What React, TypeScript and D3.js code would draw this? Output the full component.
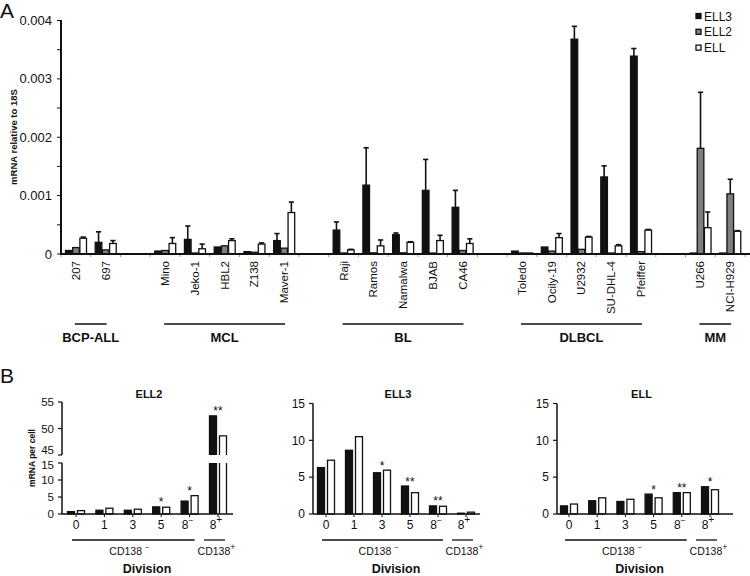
import React from "react";
import * as d3 from "d3";

const FONT = "'Liberation Sans', Arial, Helvetica, sans-serif";

// ---------- Panel A data ----------
const cellLines = ["207", "697", "gap1", "Mino", "Jeko-1", "HBL2", "Z138", "Maver-1", "gap2", "Raji", "Ramos", "Namalwa", "BJAB", "CA46", "gap3", "Toledo", "Ocily-19", "U2932", "SU-DHL-4", "Pfeiffer", "gap4", "U266", "NCI-H929"];
const seriesA = ["ELL3", "ELL2", "ELL"];
const ell3A = [0.00006, 0.0002, null, 0.00005, 0.00025, 0.00012, 0.00004, 0.00023, null, 0.00041, 0.00118, 0.00033, 0.00109, 0.0008, null, 0.00005, 0.00012, 0.00368, 0.00132, 0.00339, null, 0.000005, 0.00001];
const ell3ErrA = [0, 0.00018, null, 0, 0.00023, 0, 0, 0.00012, null, 0.00014, 0.00064, 0.00003, 0.00053, 0.00029, null, 0, 0, 0.00022, 0.00019, 0.00013, null, 0, 0];
const ell2A = [0.00011, 0.00007, null, 0.00006, 0.00001, 0.00014, 0.00003, 0.0001, null, 0.000005, 0.00002, 0.00002, 0.00001, 0.00006, null, 0, 0.00005, 0.00008, 0.000005, 0.00004, null, 0.00181, 0.00103];
const ell2ErrA = [0, 0, null, 0, 0, 0, 0, 0, null, 0, 0, 0, 0, 0, null, 0, 0, 0, 0, 0, null, 0.00096, 0.00025];
const ellA = [0.00027, 0.00018, null, 0.00018, 0.00009, 0.00023, 0.00017, 0.00071, null, 0.00007, 0.00014, 0.0002, 0.00023, 0.00018, null, 0, 0.00028, 0.00029, 0.00014, 0.00041, null, 0.00045, 0.00039];
const ellErrA = [0.00002, 0.00005, null, 0.0001, 0.00008, 0.00003, 0.00002, 0.00018, null, 0.00001, 0.0001, 0.00001, 0.00009, 0.00008, null, 0, 0.00007, 0.00001, 0.00002, 0.00001, null, 0.00027, 0.00001];
const yTicksA = [0, 0.001, 0.002, 0.003, 0.004];
const yTickLabelsA = ["0", "0.001", "0.002", "0.003", "0.004"];
const groupNames = ["BCP-ALL", "MCL", "BL", "DLBCL", "MM"];
const groupFirst = ["207", "Mino", "Raji", "Toledo", "U266"];
const groupLast = ["697", "Maver-1", "CA46", "Pfeiffer", "NCI-H929"];

// ---------- Panel B data ----------
const divisions = ["0", "1", "3", "5", "8-", "8+"];
const ell2Black = [0.7, 1.1, 1.1, 2.1, 3.8, 52.4];
const ell2White = [1.0, 1.7, 1.4, 2.0, 5.4, 48.6];
const ell2Stars = ["", "", "", "*", "*", "**"];
const ell3Black = [6.3, 8.65, 5.6, 3.8, 1.1, 0.05];
const ell3White = [7.3, 10.5, 5.95, 2.9, 1.05, 0.25];
const ell3Stars = ["", "", "*", "**", "**", ""];
const ellBlack = [1.1, 1.8, 1.7, 2.7, 2.9, 3.7];
const ellWhite = [1.35, 2.2, 2.0, 2.2, 2.9, 3.3];
const ellStars = ["", "", "", "*", "**", "*"];
const lowTicks = [0, 5, 10, 15];
const highTicks = [45, 50, 55];

const INK = "#111";

function PanelA() {
  const x = d3.scaleBand<string>().domain(cellLines).range([61, 745]).padding(0);
  const xs = d3.scaleBand<string>().domain(seriesA).range([4.5, 25.5]).paddingInner(0.08);
  const base = 254;
  const y = d3.scaleLinear().domain([0, 0.004]).range([base, 20.5]);
  const vals = [ell3A, ell2A, ellA];
  const errs = [ell3ErrA, ell2ErrA, ellErrA];
  const fills = [INK, "#7f7f7f", "#ffffff"];
  const minor = d3.range(0, 0.00401, 0.0005);
  const edges = d3.range(cellLines.length + 1).map((i) => 61 + i * x.step());
  return (
    <g>
      <text x={0} y={18} fontSize={21} fontFamily={FONT} fill={INK}>A</text>
      <text transform={`translate(17,137) rotate(-90)`} textAnchor="middle" fontSize={9.5} fontWeight="bold" fontFamily={FONT} fill={INK}>mRNA relative to 18S</text>
      {edges.map((e, i) => (
        <line key={i} x1={e} x2={e} y1={base} y2={base + 3} stroke="#999" strokeWidth={1} />
      ))}
      {cellLines.map((c, i) =>
        seriesA.map((s, j) => {
          const v = vals[j][i];
          if (v === null) return null;
          const bx = (x(c) as number) + (xs(s) as number);
          const bw = xs.bandwidth();
          const top = Math.min(y(v), base - 1);
          const e = errs[j][i] as number;
          const cx = bx + bw / 2;
          return (
            <g key={c + s}>
              <rect x={bx} y={top} width={bw} height={base - top} fill={fills[j]} stroke={INK} strokeWidth={1.3} />
              {e > 0 && (
                <g stroke={INK} strokeWidth={1.6}>
                  <line x1={cx} x2={cx} y1={top} y2={y(v + e)} />
                  <line x1={cx - 2.6} x2={cx + 2.6} y1={y(v + e)} y2={y(v + e)} />
                </g>
              )}
            </g>
          );
        })
      )}
      <line x1={61} x2={61} y1={20} y2={base + 1} stroke={INK} strokeWidth={2} />
      <line x1={60} x2={750} y1={base} y2={base} stroke={INK} strokeWidth={2} />
      {minor.map((t, i) => (
        <line key={i} x1={57} x2={61} y1={y(t)} y2={y(t)} stroke={INK} strokeWidth={1} />
      ))}
      {yTicksA.map((t, i) => (
        <text key={i} x={52} y={y(t)} dy="0.35em" textAnchor="end" fontSize={13} fontFamily={FONT} fill={INK}>{yTickLabelsA[i]}</text>
      ))}
      {cellLines.map((c) =>
        c.startsWith("gap") ? null : (
          <text key={c} transform={`translate(${(x(c) as number) + x.bandwidth() / 2},261) rotate(-90)`} dy="0.35em" textAnchor="end" fontSize={11.5} fontFamily={FONT} fill={INK}>{c}</text>
        )
      )}
      {groupNames.map((g, i) => {
        const x0 = (x(groupFirst[i]) as number) + x.bandwidth() / 2 - 1;
        const x1 = (x(groupLast[i]) as number) + x.bandwidth() / 2 + 1;
        return (
          <g key={g}>
            <line x1={x0} x2={x1} y1={324} y2={324} stroke={INK} strokeWidth={1.5} />
            <text x={(x0 + x1) / 2} y={342} textAnchor="middle" fontSize={13} fontWeight="bold" fontFamily={FONT} fill={INK}>{g}</text>
          </g>
        );
      })}
      {seriesA.map((s, j) => (
        <g key={s} transform={`translate(696,${13.5 + j * 15.8})`}>
          <rect x={0} y={0} width={5} height={5} fill={fills[j]} stroke={INK} strokeWidth={1.3} />
          <text x={8} y={2.8} dy="0.35em" fontSize={12} fontFamily={FONT} fill={INK}>{s}</text>
        </g>
      ))}
    </g>
  );
}

function SupLabel({ base, sup, x, y, fs, anchor }: { base: string; sup: string; x: number; y: number; fs: number; anchor: string }) {
  return (
    <text x={x} y={y} textAnchor={anchor as any} fontSize={fs} fontFamily={FONT} fill={INK}>
      {base}
      <tspan dy={-fs * 0.45} fontSize={sup === "+" ? fs * 0.85 : fs * 0.7}>{sup === "-" ? "\u2212" : "+"}</tspan>
    </text>
  );
}

function PanelB({ title, axisX, axisEnd, first, last, black, white, stars, broken, yLabel }: any) {
  const base = 514;
  const xp = d3.scalePoint<string>().domain(divisions).range([first, last]);
  const yLow = d3.scaleLinear().domain([0, 15]).range([base, broken ? 463 : 403.5]);
  const yHigh = d3.scaleLinear().domain([45, 55]).range([455, 402]);
  const yOf = (v: number) => (broken && v > 15 ? yHigh(v) : yLow(v));
  const mid = (first + last) / 2;
  const bars: any[] = [];
  divisions.forEach((d, i) => {
    const c = xp(d) as number;
    [
      { v: black[i], x0: c - 8.5, fill: INK },
      { v: white[i], x0: c + 1.5, fill: "#fff" },
    ].forEach((b, k) => {
      const w = 7;
      if (broken && b.v > 15) {
        const tH = yHigh(b.v);
        bars.push(
          <g key={d + k}>
            <rect x={b.x0} y={yLow(15)} width={w} height={base - yLow(15)} fill={b.fill} stroke="none" />
            <path d={`M${b.x0},${base}V${yLow(15)}M${b.x0 + w},${base}V${yLow(15)}`} stroke={INK} strokeWidth={1.3} fill="none" />
            <rect x={b.x0} y={tH} width={w} height={455 - tH} fill={b.fill} stroke="none" />
            <path d={`M${b.x0},455V${tH}H${b.x0 + w}V455`} stroke={INK} strokeWidth={1.3} fill="none" />
          </g>
        );
      } else {
        const t = Math.min(yLow(b.v), base - 0.8);
        bars.push(<rect key={d + k} x={b.x0} y={t} width={w} height={base - t} fill={b.fill} stroke={INK} strokeWidth={1.3} />);
      }
    });
  });
  const c0 = xp(divisions[0]) as number;
  const c4 = xp(divisions[4]) as number;
  const c5 = xp(divisions[5]) as number;
  const l0 = c0 - 4, l1 = c4 + 5, p0 = c5 - 14, p1 = c5 + 7;
  const tickFs = broken ? 11.5 : 12;
  return (
    <g>
      <text x={mid + 2} y={398} textAnchor="middle" fontSize={11} fontWeight="bold" fontFamily={FONT} fill={INK}>{title}</text>
      {yLabel && (
        <text transform={`translate(34.5,458) rotate(-90)`} textAnchor="middle" fontSize={8.5} fontWeight="bold" fontFamily={FONT} fill={INK}>{yLabel}</text>
      )}
      {bars}
      {broken ? (
        <g stroke={INK} strokeWidth={1.5}>
          <line x1={axisX} x2={axisX} y1={402} y2={455} />
          <line x1={axisX} x2={axisX} y1={463} y2={base} />
        </g>
      ) : (
        <line x1={axisX} x2={axisX} y1={yLow(15)} y2={base} stroke={INK} strokeWidth={1.5} />
      )}
      {lowTicks.map((t) => (
        <g key={"l" + t}>
          <line x1={axisX - 4} x2={axisX} y1={yLow(t)} y2={yLow(t)} stroke={INK} strokeWidth={1.2} />
          <text x={axisX - 8} y={yLow(t) + (broken && t === 15 ? 1.5 : 0)} dy="0.35em" textAnchor="end" fontSize={tickFs} fontFamily={FONT} fill={INK}>{t}</text>
        </g>
      ))}
      {broken &&
        highTicks.map((t) => (
          <g key={"h" + t}>
            <line x1={axisX - 4} x2={axisX} y1={yHigh(t)} y2={yHigh(t)} stroke={INK} strokeWidth={1.2} />
            <text x={axisX - 8} y={yHigh(t) - (t === 45 ? 5 : 0)} dy="0.35em" textAnchor="end" fontSize={tickFs} fontFamily={FONT} fill={INK}>{t}</text>
          </g>
        ))}
      <line x1={axisX} x2={axisEnd} y1={base} y2={base} stroke={INK} strokeWidth={1.5} />
      {divisions.map((d, i) => {
        const c = xp(d) as number;
        const top = Math.min(yOf(black[i]), yOf(white[i]));
        return (
          <g key={d}>
            <line x1={c} x2={c} y1={base} y2={base + 3} stroke={INK} strokeWidth={1} />
            {d.length > 1 ? (
              <SupLabel base="8" sup={d[1]} x={c - 2} y={528.5} fs={12} anchor="middle" />
            ) : (
              <text x={c} y={528.5} textAnchor="middle" fontSize={12} fontFamily={FONT} fill={INK}>{d}</text>
            )}
            {stars[i] && (
              <text x={c} y={top - 0.5} textAnchor="middle" fontSize={12} fontFamily={FONT} fill={INK}>{stars[i]}</text>
            )}
          </g>
        );
      })}
      <line x1={l0} x2={l1} y1={540} y2={540} stroke={INK} strokeWidth={1.3} />
      <line x1={p0} x2={p1} y1={540} y2={540} stroke={INK} strokeWidth={1.3} />
      <SupLabel base="CD138 " sup="-" x={(l0 + l1) / 2 - 4} y={555} fs={10.5} anchor="middle" />
      <SupLabel base="CD138" sup="+" x={(p0 + p1) / 2 + 2} y={555} fs={10.5} anchor="middle" />
      <text x={mid} y={573} textAnchor="middle" fontSize={12.5} fontWeight="bold" fontFamily={FONT} fill={INK}>Division</text>
    </g>
  );
}

export default function App() {
  return (
    <svg width={750} height={576} style={{ position: "absolute", left: 0, top: 0, background: "#fff" }} fontFamily={FONT}>
      <rect x={0} y={0} width={750} height={576} fill="#fff" />
      <PanelA />
      <text x={0} y={383} fontSize={21} fontFamily={FONT} fill={INK}>B</text>
      <PanelB title="ELL2" axisX={62} axisEnd={233} first={76} last={218} black={ell2Black} white={ell2White} stars={ell2Stars} broken={true} yLabel="mRNA per cell" />
      <PanelB title="ELL3" axisX={313} axisEnd={480} first={326} last={466} black={ell3Black} white={ell3White} stars={ell3Stars} broken={false} />
      <PanelB title="ELL" axisX={557} axisEnd={733} first={569} last={710} black={ellBlack} white={ellWhite} stars={ellStars} broken={false} />
    </svg>
  );
}
